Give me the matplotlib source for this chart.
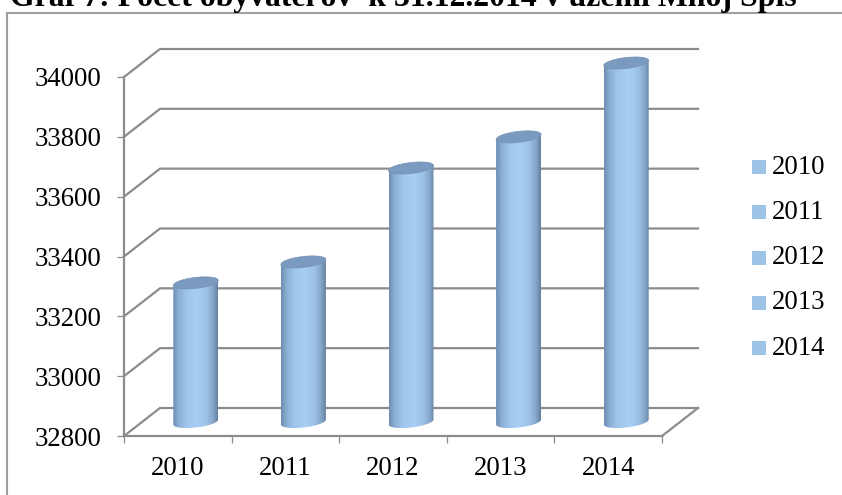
import numpy as np
import matplotlib
matplotlib.use("Agg")
import matplotlib.pyplot as plt
from matplotlib.patches import Polygon, Rectangle
from matplotlib.colors import LinearSegmentedColormap

plt.rcParams["font.family"] = ["Liberation Serif", "DejaVu Serif"]

roky = ["2010", "2011", "2012", "2013", "2014"]
obyvatelia = [33265, 33335, 33649, 33753, 34000]
y_ticks = [32800, 33000, 33200, 33400, 33600, 33800, 34000]
nadpis = "Graf 7: Počet obyvateľov  k 31.12.2014 v území Mnoj Spis"

W, H = 842, 495
SIVA = "#8c8c8c"
PISMO = 19.3

fig = plt.figure(figsize=(W / 100, H / 100), dpi=100)

# predna hrana grafu: x 124-662 px, y 77-436 px
ax = fig.add_axes([124 / W, 1 - 436 / H, 538 / W, 359 / H])
ax.set_xlim(0, 5)
ax.set_ylim(32800, 34000)
ax.patch.set_visible(False)

# prepocet pixelov na jednotky osi
px_x = 5 / 538
px_y = 1200 / 359
dx = 36 * px_x
dy = 28 * px_y

for s in ["top", "right"]:
    ax.spines[s].set_visible(False)
for s in ["left", "bottom"]:
    ax.spines[s].set_color(SIVA)
    ax.spines[s].set_linewidth(1.6)

ax.set_xticks(range(6))
ax.set_xticklabels([])
ax.set_yticks(y_ticks)
ax.tick_params(axis="both", color=SIVA, width=0.9, length=5)
ax.tick_params(axis="y", labelsize=PISMO, pad=11)

for i, r in enumerate(roky):
    ax.text(i + 0.5, 32800 - 20 * px_y, r, ha="center", va="top", fontsize=PISMO)

# steny: ciary mriezky vzadu a sikme spojnice vlavo
for v in y_ticks:
    ax.plot([0, dx, 5 + dx], [v, v + dy, v + dy], color=SIVA, lw=1.6,
            clip_on=False, zorder=1, solid_joinstyle="miter")
ax.plot([5, 5 + dx], [32800, 32800 + dy], color=SIVA, lw=1.6, clip_on=False, zorder=1)

# valce
cmap = LinearSegmentedColormap.from_list("valec", [
    (0.0, "#6c8db0"), (0.12, "#8aaed4"), (0.3, "#a0c6ec"), (0.55, "#a8cef4"),
    (0.75, "#9cc1e6"), (0.9, "#82a4c7"), (1.0, "#647f9c"),
])
grad = np.linspace(0, 1, 256).reshape(1, -1)
sirka = 45 * px_x
ry = 5.5 * px_y
sklon = 2.5 * px_y
t = np.linspace(0, 2 * np.pi, 81)

for i, hodnota in enumerate(obyvatelia):
    cx = i + 0.5 + dx / 2
    spodok = 32800 + dy / 2
    vrch = hodnota + dy / 2
    ex = sirka / 2 * np.cos(t)
    ey = ry * np.sin(t) + sklon * np.cos(t)

    # telo valca: spodna polovica elipsy a hore rovny okraj pod vieckom
    dolna = t >= np.pi
    xs = np.r_[cx + ex[dolna], cx + sirka / 2, cx - sirka / 2]
    ys = np.r_[spodok + ey[dolna], vrch + sklon, vrch - sklon]

    im = ax.imshow(grad, cmap=cmap, aspect="auto", zorder=3,
                   extent=[cx - sirka / 2, cx + sirka / 2, spodok - 3 * ry, vrch + 3 * ry])
    clip = Polygon(np.column_stack([xs, ys]), closed=True, transform=ax.transData,
                   facecolor="none", edgecolor="none")
    ax.add_patch(clip)
    im.set_clip_path(clip)
    im.set_clip_box(fig.bbox)
    ax.add_patch(Polygon(np.column_stack([cx + ex, vrch + ey]), closed=True,
                         facecolor="#7a9bbf", edgecolor="#7592b5", lw=0.5, zorder=4,
                         clip_on=False))

ax.set_xlim(0, 5)
ax.set_ylim(32800, 34000)

# legenda
leg = fig.add_axes([0, 0, 1, 1])
leg.set_xlim(0, W)
leg.set_ylim(H, 0)
leg.axis("off")
leg.patch.set_visible(False)
for i, r in enumerate(roky):
    y = 167 + i * 45.3
    leg.add_patch(Rectangle((752, y - 7), 14, 14, facecolor="#9dc3e6", edgecolor="none"))
    leg.text(772, y, r, va="center", ha="left", fontsize=PISMO)

# ramec a nadpis
leg.plot([7, 7], [13, H], color="#a0a0a0", lw=1.5, clip_on=False)
leg.plot([7, W], [13, 13], color="#a0a0a0", lw=1.5, clip_on=False)
leg.text(10, 6, nadpis, fontsize=22.9, fontweight="bold", va="baseline", ha="left")

fig.savefig("out.png", dpi=100)
